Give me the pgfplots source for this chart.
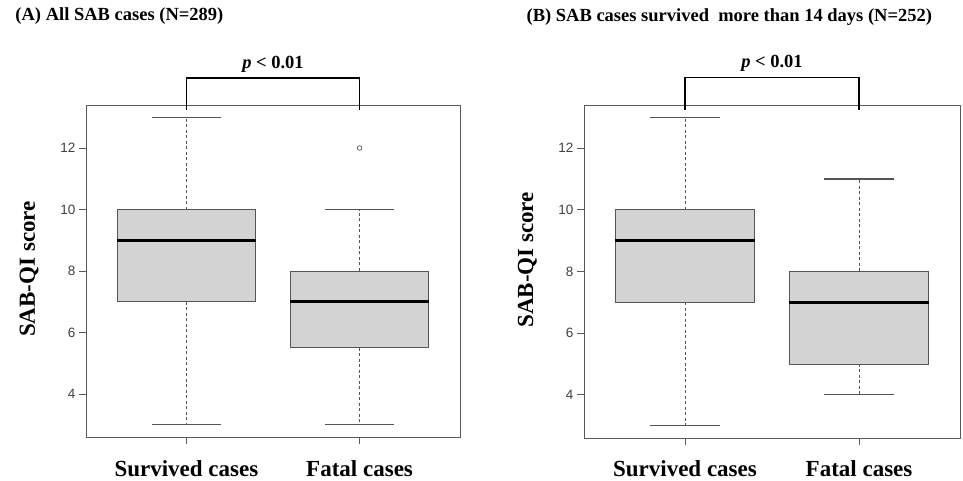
\documentclass[border=0pt]{standalone}
\usepackage{pgfplots}
\pgfplotsset{compat=1.18}
\usepackage{fontspec}
\setmainfont{Liberation Serif}
\newfontfamily\arial{Liberation Sans}
\definecolor{axgray}{HTML}{5A5A5A}
\definecolor{ticktext}{HTML}{404040}
\definecolor{boxfill}{HTML}{D3D3D3}
\definecolor{boxline}{HTML}{555555}
\pgfplotsset{
  panel/.style={
    scale only axis,
    xmin=0.42, xmax=2.58, ymin=2.6, ymax=13.4,
    axis line style={axgray, line width=0.9pt},
    tick align=outside, major tick length=7pt,
    tick style={axgray, line width=0.9pt},
    xtick pos=left, ytick pos=left,
    xtick={1,2}, xticklabels={Survived cases, Fatal cases},
    ytick={4,6,8,10,12},
    xticklabel style={font=\bfseries\fontsize{23}{23}\selectfont, anchor=base, yshift=-32pt},
    yticklabel style={font=\arial\fontsize{13.5}{14}\selectfont, text=ticktext},
    /pgf/number format/assume math mode=true,
    ylabel={SAB-QI score},
    clip=false,
  },
  boxstyle/.style={fill=boxfill, draw=boxline, line width=0.9pt},
  medstyle/.style={black, line width=2.5pt},
  whisk/.style={boxline, line width=0.9pt, dash pattern=on 3pt off 2.5pt},
  capstyle/.style={boxline, line width=1.2pt},
}
\begin{document}
\begin{tikzpicture}
\useasboundingbox (0pt,0pt) rectangle (963pt,481pt);
% ---------------- Panel A ----------------
\begin{axis}[panel, at={(86pt,44pt)}, anchor=south west, width=374pt, height=332pt,
  ylabel style={at={(axis description cs:-0.1364,0.506)}, rotate=0, anchor=base,
    font=\bfseries\fontsize{23}{23}\selectfont},
  title={(A) All SAB cases (N=289)},
  title style={at={(axis description cs:-0.198,1.235)}, anchor=base west,
    font=\bfseries\fontsize{18.5}{19}\selectfont},
]
% Survived cases
\addplot[whisk] coordinates {(1,10) (1,13)};
\addplot[whisk] coordinates {(1,7) (1,3)};
\addplot[capstyle] coordinates {(0.8,13) (1.2,13)};
\addplot[capstyle] coordinates {(0.8,3) (1.2,3)};
\addplot[boxstyle] coordinates {(0.6,7) (1.4,7) (1.4,10) (0.6,10)} -- cycle;
\addplot[medstyle] coordinates {(0.6,9) (1.4,9)};
% Fatal cases
\addplot[whisk] coordinates {(2,8) (2,10)};
\addplot[whisk] coordinates {(2,5.5) (2,3)};
\addplot[capstyle] coordinates {(1.8,10) (2.2,10)};
\addplot[capstyle] coordinates {(1.8,3) (2.2,3)};
\addplot[boxstyle] coordinates {(1.6,5.5) (2.4,5.5) (2.4,8) (1.6,8)} -- cycle;
\addplot[medstyle] coordinates {(1.6,7) (2.4,7)};
\addplot[only marks, mark=o, mark size=2.3pt, draw=boxline, line width=0.7pt] coordinates {(2,12)};
% bracket
\addplot[black, line width=1.2pt] coordinates {(1,13.24) (1,14.28) (2,14.28) (2,13.24)};
\node[anchor=base, font=\bfseries\fontsize{18.5}{19}\selectfont] at (axis cs:1.5,14.60) {\textit{p} < 0.01};
\end{axis}
% ---------------- Panel B ----------------
\begin{axis}[panel, at={(584pt,43pt)}, anchor=south west, width=376pt, height=333pt,
  ylabel style={at={(axis description cs:-0.1356,0.535)}, rotate=0, anchor=base,
    font=\bfseries\fontsize{23}{23}\selectfont},
  title={(B) SAB cases survived\ \ more than 14 days (N=252)},
  title style={at={(axis description cs:-0.162,1.234)}, anchor=base west,
    font=\bfseries\fontsize{18.5}{19}\selectfont},
]
% Survived cases
\addplot[whisk] coordinates {(1,10) (1,13)};
\addplot[whisk] coordinates {(1,7) (1,3)};
\addplot[capstyle] coordinates {(0.8,13) (1.2,13)};
\addplot[capstyle] coordinates {(0.8,3) (1.2,3)};
\addplot[boxstyle] coordinates {(0.6,7) (1.4,7) (1.4,10) (0.6,10)} -- cycle;
\addplot[medstyle] coordinates {(0.6,9) (1.4,9)};
% Fatal cases
\addplot[whisk] coordinates {(2,8) (2,11)};
\addplot[whisk] coordinates {(2,5) (2,4)};
\addplot[capstyle] coordinates {(1.8,11) (2.2,11)};
\addplot[capstyle] coordinates {(1.8,4) (2.2,4)};
\addplot[boxstyle] coordinates {(1.6,5) (2.4,5) (2.4,8) (1.6,8)} -- cycle;
\addplot[medstyle] coordinates {(1.6,7) (2.4,7)};
% bracket
\addplot[black, line width=1.2pt] coordinates {(1,13.24) (1,14.28) (2,14.28) (2,13.24)};
\node[anchor=base, font=\bfseries\fontsize{18.5}{19}\selectfont] at (axis cs:1.5,14.60) {\textit{p} < 0.01};
\end{axis}
\end{tikzpicture}
\end{document}
